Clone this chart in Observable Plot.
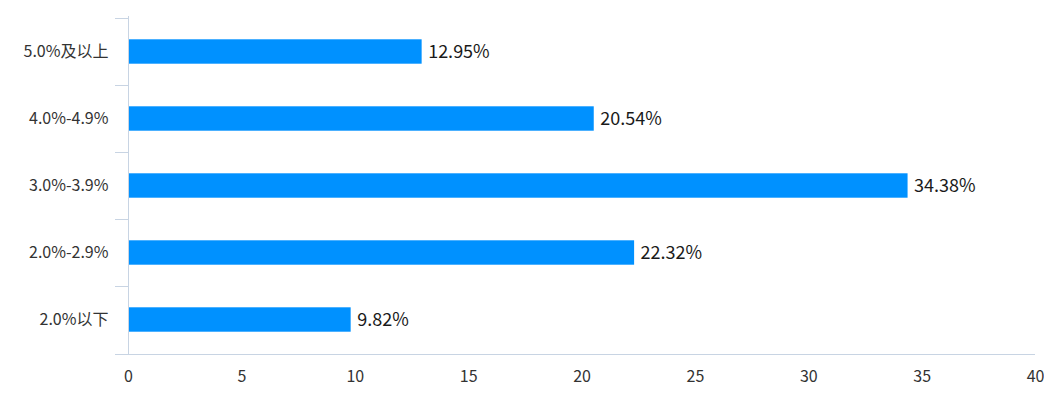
<!DOCTYPE html>
<html>
<head>
<meta charset="utf-8">
<script src="https://cdn.jsdelivr.net/npm/d3@7"></script>
<script src="https://cdn.jsdelivr.net/npm/@observablehq/plot@0.6"></script>
<style>
  html, body { margin: 0; padding: 0; background: #fff; }
  #chart svg { display: block; }
</style>
</head>
<body>
<div id="chart"></div>
<script>
const categories = ["5.0%及以上", "4.0%-4.9%", "3.0%-3.9%", "2.0%-2.9%", "2.0%以下"];
const values = [12.95, 20.54, 34.38, 22.32, 9.82];
const xTicks = [0, 5, 10, 15, 20, 25, 30, 35, 40];

const data = categories.map((c, i) => ({category: c, value: values[i]}));

const barColor = "#0091FF";
const axisColor = "#C8D4E3";
const font = "'Noto Sans CJK SC', 'Noto Sans', sans-serif";

function axisLines(index, scales, vals, dimensions) {
  const {height, marginTop, marginBottom} = dimensions;
  const x = scales.x, y = scales.y;
  const step = y(categories[1]) - y(categories[0]);
  const x0 = x(0), x1 = x(40);
  const top = marginTop, bottom = height - marginBottom;
  const g = d3.create("svg:g").attr("stroke", axisColor).attr("stroke-width", 1).attr("fill", "none");
  g.append("line").attr("x1", x0 + 0.5).attr("x2", x0 + 0.5).attr("y1", top).attr("y2", bottom);
  categories.forEach(c => {
    const yy = Math.round(y(c) + step / 2 - step / 2) + 0.5;
    g.append("line").attr("x1", x0 - 13).attr("x2", x0).attr("y1", yy).attr("y2", yy);
  });
  g.append("line").attr("x1", x0 - 13).attr("x2", x1).attr("y1", Math.round(bottom) + 0.5).attr("y2", Math.round(bottom) + 0.5);
  return g.node();
}

const chart = Plot.plot({
  width: 1044,
  height: 393,
  marginTop: 16,
  marginBottom: 39,
  marginLeft: 128,
  marginRight: 9,
  style: {fontFamily: font, background: "#fff"},
  x: {domain: [0, 40], ticks: xTicks},
  y: {domain: categories, padding: 0},
  marks: [
    Plot.barX(data, {x: "value", y: "category", fill: barColor, insetTop: 21.3, insetBottom: 21.3}),
    Plot.text(data, {
      x: "value", y: "category",
      text: d => d.value.toFixed(2) + "%",
      textAnchor: "start", dx: 6, fontSize: 18, fill: "#1a1a1a"
    }),
    axisLines,
    Plot.axisY({tickSize: 0, tickPadding: 20, fontSize: 16, fill: "#333", label: null}),
    Plot.axisX({ticks: xTicks, tickSize: 0, tickPadding: 16, fontSize: 16, fill: "#333", label: null})
  ]
});

document.getElementById("chart").appendChild(chart);
</script>
</body>
</html>
